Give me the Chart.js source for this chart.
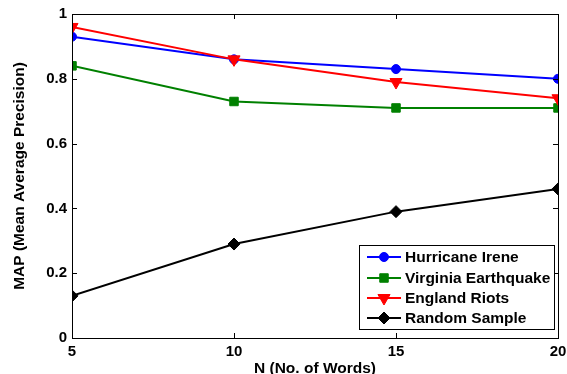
<!DOCTYPE html>
<html>
<head>
<meta charset="utf-8">
<script src="https://cdn.jsdelivr.net/npm/chart.js@4"></script>
<style>
  html, body { margin: 0; padding: 0; background: #fff; }
  #wrap { width: 567px; height: 374px; }
</style>
</head>
<body>
<div id="wrap"><canvas id="mapChart" width="567" height="374"></canvas></div>
<script>
const nWords = [5, 10, 15, 20];
const hurricaneIrene = [0.93, 0.86, 0.83, 0.80];
const virginiaQuake = [0.84, 0.73, 0.71, 0.71];
const englandRiots = [0.96, 0.86, 0.79, 0.74];
const randomSample = [0.13, 0.29, 0.39, 0.46];
const xTicks = [5, 10, 15, 20];
const yTicks = [0, 0.2, 0.4, 0.6, 0.8, 1];
const yTickLabels = ['0', '0.2', '0.4', '0.6', '0.8', '1'];

const FONT = 'Liberation Sans, Arial, Helvetica, sans-serif';

function series(label, values, color, style, radius, rotation, order) {
    return {
        label: label,
        data: nWords.map((x, i) => ({ x: x, y: values[i] })),
        borderColor: color, backgroundColor: color,
        borderWidth: 2, pointStyle: style, pointRadius: radius,
        pointRotation: rotation, pointBorderWidth: 1, pointHoverRadius: radius,
        order: order, tension: 0
    };
}

// MATLAB style box, inward ticks and legend inside the axes
const matlabBox = {
    id: 'matlabBox',
    afterDatasetsDraw(chart) {
        const { ctx, chartArea: a, scales } = chart;
        ctx.save();
        ctx.strokeStyle = '#000'; ctx.lineWidth = 1;
        ctx.strokeRect(a.left + 0.5, a.top + 0.5, a.right - a.left, a.bottom - a.top);
        ctx.beginPath();
        xTicks.forEach(v => {
            const px = Math.round(scales.x.getPixelForValue(v)) + 0.5;
            ctx.moveTo(px, a.bottom); ctx.lineTo(px, a.bottom - 5);
            ctx.moveTo(px, a.top); ctx.lineTo(px, a.top + 5);
        });
        yTicks.forEach(v => {
            const py = Math.round(scales.y.getPixelForValue(v)) + 0.5;
            ctx.moveTo(a.left, py); ctx.lineTo(a.left + 5, py);
            ctx.moveTo(a.right, py); ctx.lineTo(a.right - 5, py);
        });
        ctx.stroke();

        // legend
        const lx = 359, ly = 245, lw = 195, lh = 84;
        ctx.fillStyle = '#fff';
        ctx.fillRect(lx, ly, lw, lh);
        ctx.strokeRect(lx + 0.5, ly + 0.5, lw, lh);
        ctx.font = 'bold 15.5px ' + FONT;
        ctx.textBaseline = 'middle';
        const rows = [257, 278, 298, 318];
        const sets = chart.data.datasets;
        sets.forEach((ds, i) => {
            const y = rows[i];
            ctx.strokeStyle = ds.borderColor; ctx.lineWidth = 2;
            ctx.beginPath(); ctx.moveTo(367, y); ctx.lineTo(401, y); ctx.stroke();
            ctx.fillStyle = ds.backgroundColor; ctx.lineWidth = 1;
            Chart.helpers.drawPoint(ctx, {
                pointStyle: ds.pointStyle, radius: ds.pointRadius,
                rotation: ds.pointRotation, borderWidth: 1
            }, 384, y);
            ctx.fillStyle = '#000';
            ctx.fillText(ds.label, 405, y + 1);
        });
        ctx.restore();
    }
};

new Chart(document.getElementById('mapChart'), {
    type: 'line',
    data: {
        datasets: [
            series('Hurricane Irene', hurricaneIrene, '#0000ff', 'circle', 4.5, 0, 4),
            series('Virginia Earthquake', virginiaQuake, '#008000', 'rect', 6, 0, 3),
            series('England Riots', englandRiots, '#ff0000', 'triangle', 7, 180, 2),
            series('Random Sample', randomSample, '#000000', 'rectRot', 6, 0, 1)
        ]
    },
    options: {
        responsive: false, animation: false,
        layout: { padding: { left: 0, right: 9, top: 14, bottom: 0 } },
        plugins: { legend: { display: false }, tooltip: { enabled: false } },
        scales: {
            x: {
                type: 'linear', min: 5, max: 20,
                afterBuildTicks: s => { s.ticks = xTicks.map(v => ({ value: v })); },
                afterFit: s => { s.height = 36; s.paddingLeft = 0; s.paddingRight = 0; },
                grid: { display: false, drawTicks: false },
                border: { display: false },
                ticks: { padding: 5, color: '#000', font: { family: FONT, size: 15, weight: 'bold' } },
                title: { display: true, text: 'N (No. of Words)', color: '#000', padding: { top: 0, bottom: -4 },
                         font: { family: FONT, size: 15.5, weight: 'bold' } }
            },
            y: {
                min: 0, max: 1,
                afterBuildTicks: s => { s.ticks = yTicks.map(v => ({ value: v })); },
                afterFit: s => { s.width = 72; s.paddingTop = 0; s.paddingBottom = 0; },
                grid: { display: false, drawTicks: false },
                border: { display: false },
                ticks: { padding: 5, color: '#000', font: { family: FONT, size: 15, weight: 'bold' },
                         callback: (v) => yTickLabels[yTicks.indexOf(v)] },
                title: { display: true, text: 'MAP (Mean Average Precision)', color: '#000',
                         padding: { top: 10, bottom: 0 },
                         font: { family: FONT, size: 15.5, weight: 'bold' } }
            }
        }
    },
    plugins: [matlabBox]
});
</script>
</body>
</html>
